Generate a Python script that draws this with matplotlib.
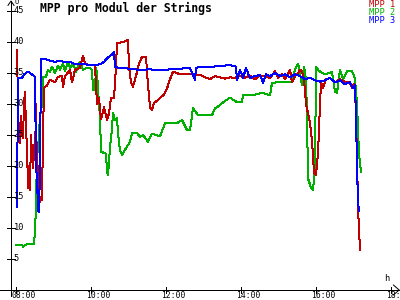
import matplotlib
matplotlib.use("Agg")
import matplotlib.pyplot as plt

# time in minutes after 08:00
t_mpp3 = [1.6,3.2,9.6,12.8,19.2,22.4,28.8,30.4,32.0,33.6,35.2,36.8,38.4,40.0,
          48.0,54.4,62.4,70.4,78.4,86.4,94.4,102.4,110.4,118.4,126.4,134.4,140.8,147.2,
          153.6,156.8,158.4,166.4,182.4,198.4,214.4,230.4,246.4,262.4,278.4,286.4,288.0,
          294.4,310.4,326.4,342.4,352.0,353.6,358.4,363.2,368.0,374.4,382.4,390.4,395.2,
          400.0,406.4,414.4,422.4,430.4,438.4,446.4,454.4,462.4,470.4,478.4,486.4,494.4,
          502.4,510.4,518.4,526.4,534.4,539.2,542.4,544.0,545.6,547.2,548.8]
v_mpp3 = [13.4,34.2,34.2,34.8,35.2,35.0,34.5,34.4,20,18,13,12.5,20,37.3,
          37.2,37.0,36.8,37.0,36.7,36.8,36.4,36.4,36.4,36.3,36.3,36.4,36.8,37.5,
          38.0,38.4,36.0,35.8,35.7,35.5,35.6,35.4,35.6,35.7,35.8,33.9,35.8,
          36.0,36.0,36.1,36.3,36.0,33.9,35.5,34.2,35.8,34.2,34.5,34.7,33.4,
          34.8,34.5,35.0,34.5,34.8,34.3,34.8,34.5,34.0,34.2,33.8,33.6,33.8,
          34.2,33.5,33.8,33.2,33.5,32.5,33.0,28,20,14,12.8]

t_mpp1 = [1.6,3.2,4.8,6.4,8.0,9.6,11.2,12.8,14.4,16.0,
          17.6,19.2,20.8,22.4,24.0,25.6,27.2,28.8,30.4,32.0,
          33.6,35.2,36.8,38.4,40.0,41.6,43.2,44.8,49.6,54.4,
          62.4,67.2,73.6,75.2,78.4,86.4,89.6,94.4,102.4,107.2,
          110.4,115.2,126.4,129.6,132.8,136.0,140.8,145.6,148.8,152.0,
          156.8,160.0,161.6,166.4,172.8,177.6,179.2,180.8,184.0,187.2,
          192.0,196.8,201.6,208.0,211.2,214.4,217.6,220.8,225.6,230.4,
          236.8,241.6,246.4,251.2,262.4,278.4,294.4,302.4,310.4,318.4,
          326.4,334.4,342.4,350.4,358.4,366.4,374.4,382.4,390.4,398.4,
          406.4,414.4,419.2,425.6,430.4,438.4,441.6,446.4,451.2,454.4,
          457.6,460.8,464.0,470.4,473.6,476.8,480.0,483.2,486.4,488.0,
          491.2,496.0,502.4,510.4,518.4,526.4,534.4,537.6,540.8,542.4,
          544.0,545.6,547.2,548.8,550.4]
v_mpp1 = [38.7,30,24,23.7,28,25,24.5,30,32,26,
          23,16.5,20,16.1,25,22,19.7,23.4,21,30,
          17.7,20,15,14.2,15,14.5,25,32.6,33,33.9,
          33.5,34.4,34.5,32.8,34.5,35.5,33.5,35.5,35.8,37.8,
          36.5,36.3,36.2,30,31,27.5,29.5,27.4,28.5,31,
          31,36,39.8,39.9,40.0,40.3,40.4,36,33.4,32.8,
          34.5,36.5,37.6,37.6,33,29.5,29.0,30.2,30.5,31,
          31.5,32.5,34,35.2,34.8,34.8,34.7,34.3,34.0,34.5,
          34.3,34.1,34.3,34.2,34.6,34.2,34.6,34.0,34.6,34.5,
          34.2,35.3,34.2,34.8,34.0,35.5,33.5,34.5,35.0,35.5,
          35.3,34,30,27,24,19,18.5,22,30,33.5,
          32.6,34.0,34.2,33.5,34.0,33.6,33.4,32.6,33.3,33,
          27.4,21.5,13.4,9.7,6.5]

t_mpp2 = [0,9.6,11.2,14.4,17.6,28.8,30.4,32.0,33.6,35.2,
          38.4,41.6,43.2,48.0,51.2,54.4,57.6,62.4,67.2,70.4,
          75.2,78.4,83.2,86.4,91.2,96.0,99.2,102.4,107.2,112.0,
          118.4,121.6,123.2,126.4,128.0,129.6,132.8,134.4,136.0,144.0,
          145.6,147.2,150.4,153.6,155.2,158.4,161.6,163.2,166.4,169.6,
          174.4,182.4,185.6,193.6,198.4,203.2,211.2,217.6,224.0,230.4,
          238.4,246.4,257.6,265.6,273.6,278.4,283.2,291.2,313.6,318.4,
          323.2,334.4,342.4,353.6,361.6,363.2,379.2,393.6,406.4,409.6,
          417.6,441.6,446.4,451.2,454.4,457.6,460.8,464.0,465.6,467.2,
          472.0,475.2,478.4,480.0,483.2,489.6,496.0,505.6,510.4,513.6,
          518.4,523.2,529.6,537.6,540.8,542.4,545.6,548.8,552.0]
v_mpp2 = [7.3,7.3,7.0,7.2,7.4,7.4,9.4,13.7,22,22.5,
          28,30,34.4,34.4,35.5,35.2,36.0,35.0,36.2,35.5,
          36.5,35.3,36.8,35.8,36.5,35.2,36.0,36.8,35.5,35.8,
          35.8,35.5,32.3,32.3,35.8,35.0,30,28,22.3,22.0,
          19,18.5,23,26,28.5,27.4,27.7,25.3,22.5,21.8,
          22.6,23.9,25.3,25.3,24.7,25.0,23.9,25.2,25.0,24.8,
          26.9,26.9,26.9,27.4,25.8,25.8,29.3,28.2,28.2,29.3,
          29.6,30.5,31.0,30.3,30.3,31.4,31.4,31.8,31.4,33.4,
          33.5,33.5,35.5,36.5,35.0,33.0,36.0,34,28,18,
          16.5,16.1,20,36,35.5,35.0,34.8,35.2,32,31.8,
          35.5,34,35.3,35.3,34.5,34,30,22,19]

y_ticks = [5, 10, 15, 20, 25, 30, 35, 40, 45]
x_ticks = [0, 120, 240, 360, 480, 600]
x_labels = ["08:00", "10:00", "12:00", "14:00", "16:00", "18:00"]
series_names = ["MPP 1", "MPP 2", "MPP 3"]
colors = ["#c00000", "#00b000", "#0000ff"]

mono = "DejaVu Sans Mono"
LW = 0.72

fig = plt.figure(figsize=(4, 3), dpi=100)
fig.patch.set_facecolor("white")
ax = fig.add_axes([0, 0, 1, 1])
ax.set_facecolor("white")
ax.set_xlim(-25.6, 614.4)
ax.set_ylim(-1.613, 46.77)
for s in ax.spines.values():
    s.set_visible(False)
ax.set_xticks([])
ax.set_yticks([])

yaxis_x = -8.0
# axes lines
ax.plot([yaxis_x, yaxis_x], [-1.0, 46.6], color="black", lw=LW, antialiased=False)
ax.plot([-25.6, 613], [0, 0], color="black", lw=LW, antialiased=False)
# arrows
ax.plot([-12.8, yaxis_x, -3.2], [45.9, 46.6, 45.9], color="black", lw=LW)
ax.plot([604, 613, 604], [0.8, 0, -0.8], color="black", lw=LW)

# ticks
for v in y_ticks:
    ax.plot([-14.4, -1.6], [v, v], color="black", lw=LW, antialiased=False)
    ax.text(-4.0, v, str(v), fontsize=6.2, family=mono, ha="left", va="center")
for t, lab in zip(x_ticks, x_labels):
    ax.plot([t, t], [0.5, -0.5], color="black", lw=LW, antialiased=False)
    ax.text(t - 8.0, -1.21, lab, fontsize=5.8, family=mono, ha="left", va="baseline")

ax.text(-3.0, 46.9, "U", fontsize=5, family=mono, ha="left", va="top")
ax.text(593, 1.1, "h", fontsize=6.2, family=mono, ha="center", va="bottom")

ax.plot(t_mpp2, v_mpp2, color=colors[1], lw=LW, antialiased=False)
ax.plot(t_mpp1, v_mpp1, color=colors[0], lw=LW, antialiased=False)
ax.plot(t_mpp3, v_mpp3, color=colors[2], lw=LW, antialiased=False)

fig.text(40 / 400, 1 - 8 / 300, "MPP pro Modul der Strings", fontsize=8.3,
         family=mono, fontweight="bold", ha="left", va="center")
for i, (name, c) in enumerate(zip(series_names, colors)):
    fig.text(369 / 400, 1 - (4.5 + 8 * i) / 300, name, fontsize=6.2, family=mono,
             color=c, ha="left", va="center")

fig.savefig("out.png", dpi=100)
